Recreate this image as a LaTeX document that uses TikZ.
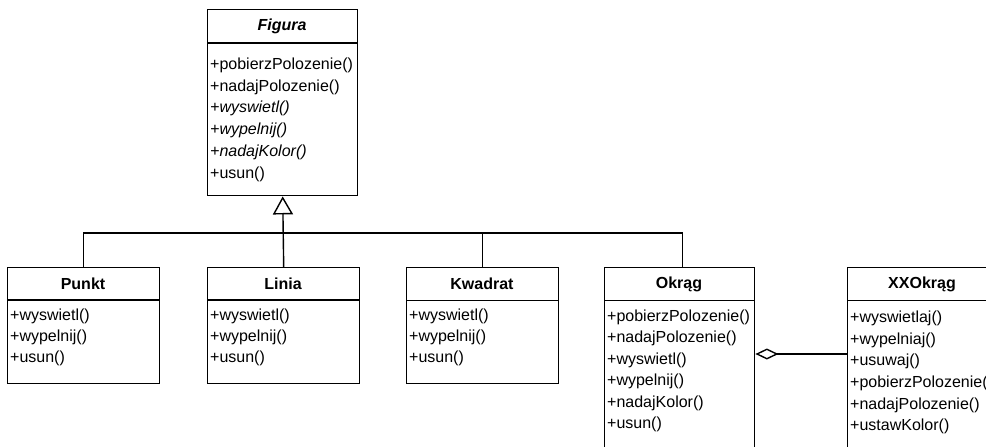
\documentclass[tikz,border=0pt]{standalone}
\usepackage{fontspec}
\setmainfont{Liberation Sans}
\usetikzlibrary{arrows.meta}
\begin{document}
\begin{tikzpicture}[x=1pt,y=-1pt,
  box/.style={draw, line width=1.4pt, anchor=north west, inner sep=0pt},
  ln/.style={line width=1.4pt},
  ttl/.style={font=\fontsize{16}{19}\selectfont\bfseries, inner sep=0pt},
  op/.style={font=\fontsize{16}{19}\selectfont, anchor=west, inner sep=0pt},
  opi/.style={op, font=\fontsize{16}{19}\selectfont\itshape}]
\useasboundingbox (0,0) rectangle (986,447);
\clip (0,0) rectangle (986,447);
\fill[white] (0,0) rectangle (986,447);

% Figura
\node[box, minimum width=150pt, minimum height=186pt] (figura) at (207,9) {};
\draw[ln] (207,43) -- (357,43);
\node[ttl, font=\fontsize{16}{19}\selectfont\bfseries\itshape] (figuraT) at (282,26) {Figura};
\node[op]  (f1) at (210,65)  {+pobierzPolozenie()};
\node[op]  (f2) at (210,87)  {+nadajPolozenie()};
\node[opi] (f3) at (210,108.5) {+wyswietl()};
\node[opi] (f4) at (210,130) {+wypelnij()};
\node[opi] (f5) at (210,152) {+nadajKolor()};
\node[op]  (f6) at (210,174) {+usun()};

% Punkt
\node[box, minimum width=152pt, minimum height=116pt] (punkt) at (7,267) {};
\draw[ln] (7,300) -- (159,300);
\node[ttl] (punktT) at (83,284) {Punkt};
\node[op] (p1) at (10,316) {+wyswietl()};
\node[op] (p2) at (10,337) {+wypelnij()};
\node[op] (p3) at (10,358) {+usun()};

% Linia
\node[box, minimum width=152pt, minimum height=116pt] (linia) at (207,267) {};
\draw[ln] (207,300) -- (359,300);
\node[ttl] (liniaT) at (283,284) {Linia};
\node[op] (l1) at (210,316) {+wyswietl()};
\node[op] (l2) at (210,337) {+wypelnij()};
\node[op] (l3) at (210,358) {+usun()};

% Kwadrat
\node[box, minimum width=152pt, minimum height=116pt] (kwadrat) at (406,267) {};
\draw[ln] (406,300.5) -- (558,300.5);
\node[ttl] (kwadratT) at (482,284) {Kwadrat};
\node[op] (k1) at (409,316) {+wyswietl()};
\node[op] (k2) at (409,337) {+wypelnij()};
\node[op] (k3) at (409,358) {+usun()};

% Okrag
\node[box, minimum width=150pt, minimum height=200pt] (okrag) at (604,267) {};
\draw[ln] (604,300.5) -- (754,300.5);
\node[ttl] (okragT) at (679,284) {Okrąg};
\node[op] (o1) at (607,317)   {+pobierzPolozenie()};
\node[op] (o2) at (607,338.5) {+nadajPolozenie()};
\node[op] (o3) at (607,360)   {+wyswietl()};
\node[op] (o4) at (607,381.5) {+wypelnij()};
\node[op] (o5) at (607,403)   {+nadajKolor()};
\node[op] (o6) at (607,424.5) {+usun()};

% XXOkrag
\node[box, minimum width=150pt, minimum height=200pt] (xx) at (847,267) {};
\draw[ln] (847,300.5) -- (997,300.5);
\node[ttl] (xxT) at (922,284) {XXOkrąg};
\node[op] (x1) at (850,318)   {+wyswietlaj()};
\node[op] (x2) at (850,340)   {+wypelniaj()};
\node[op] (x3) at (850,361.5) {+usuwaj()};
\node[op] (x4) at (850,383)   {+pobierzPolozenie()};
\node[op] (x5) at (850,405)   {+nadajPolozenie()};
\node[op] (x6) at (850,426.5) {+ustawKolor()};

% inheritance
\coordinate (j) at (283,233);
\coordinate (ok) at ([xshift=3pt]okrag.north);
\draw[ln] (punkt.north) |- (ok |- j) -- (ok);
\draw[ln] (kwadrat.north) -- (kwadrat.north |- j);
\draw[ln, -{Triangle[open, width=20pt, length=18pt, line width=1.4pt]}] (linia.north) -- (figura.south);

% aggregation
\coordinate (agg) at (0,354);
\draw[ln, {Diamond[open, width=11pt, length=23pt, line width=1.4pt]}-] (okrag.east |- agg) -- (xx.west |- agg);
\end{tikzpicture}
\end{document}
